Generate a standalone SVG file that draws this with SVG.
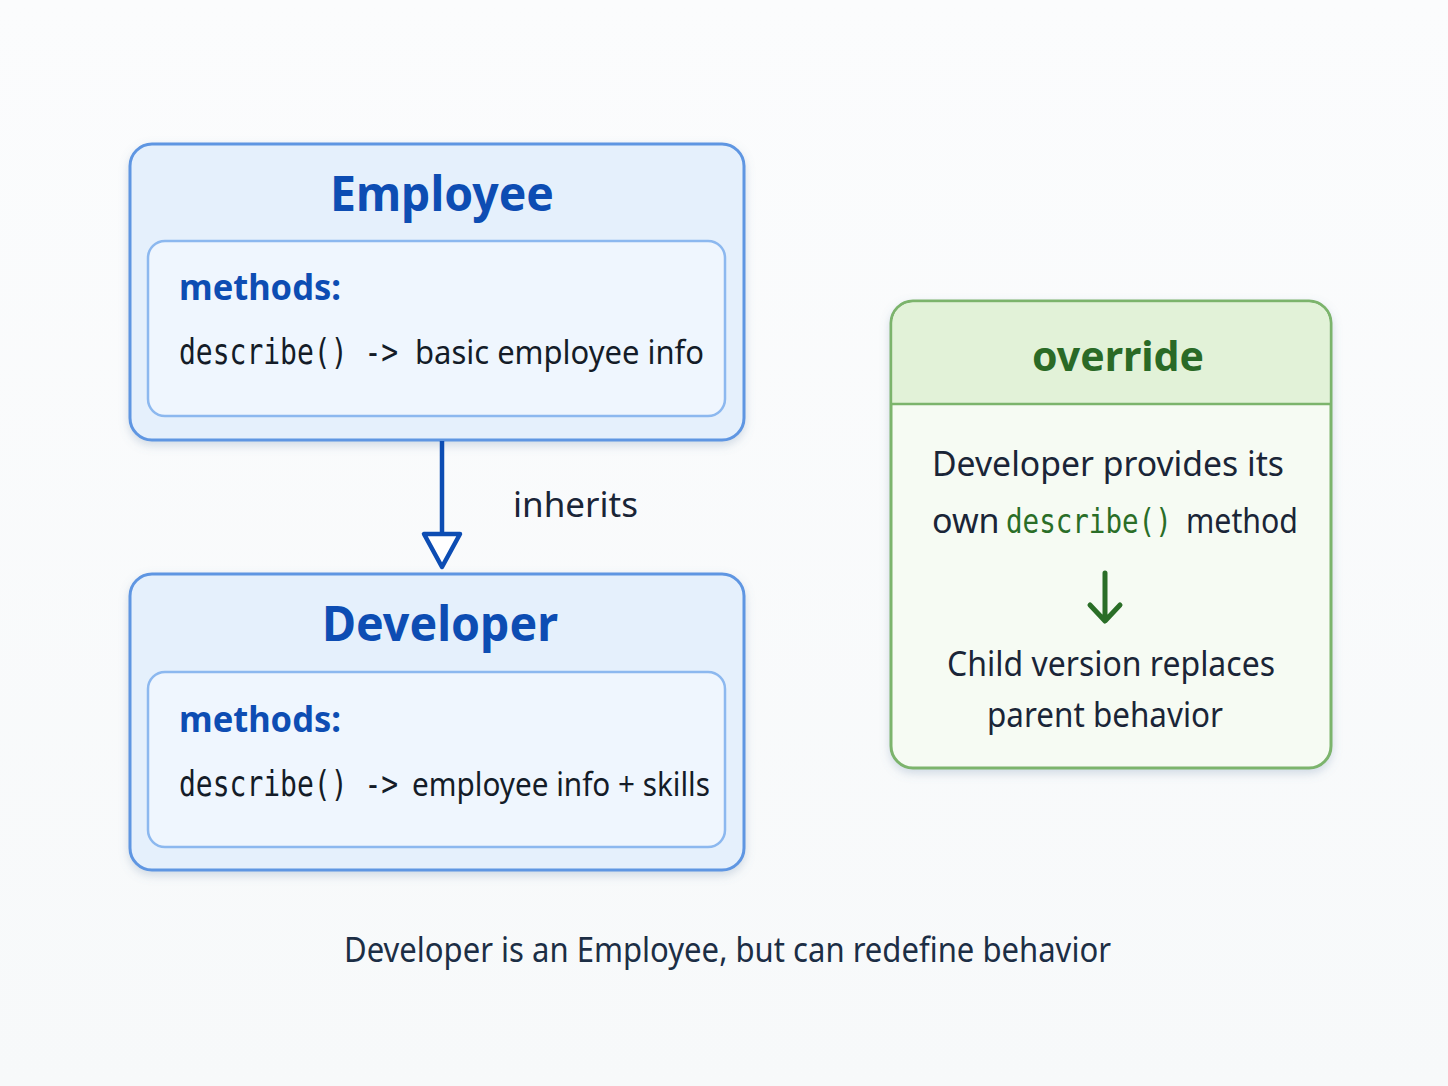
<svg xmlns="http://www.w3.org/2000/svg" width="1448" height="1086" viewBox="0 0 1448 1086">
<defs>
<filter id="sh" x="-10%" y="-10%" width="120%" height="125%">
<feDropShadow dx="0" dy="4" stdDeviation="5" flood-color="#6b86a8" flood-opacity="0.28"/>
</filter>
<linearGradient id="bg" x1="0" y1="0" x2="0" y2="1">
<stop offset="0" stop-color="#fbfcfd"/><stop offset="1" stop-color="#f7f9fa"/>
</linearGradient>
</defs>
<style>
.outer{fill:#e5f0fc;stroke:#5e96e2;stroke-width:3}
.inner{fill:#eff6fe;stroke:#8cb8ef;stroke-width:2.5}
.title{font-family:"Noto Sans","Open Sans",sans-serif;font-weight:bold;font-size:48px;fill:#0d4db3;text-anchor:middle}
.meth{font-family:"Noto Sans","Open Sans",sans-serif;font-weight:bold;font-size:36px;fill:#0d4db3}
.code{font-family:"DejaVu Sans Mono",monospace;font-size:35px;fill:#141c28}
.body{font-family:"Noto Sans","Open Sans",sans-serif;font-size:34px;fill:#1a2537}
.green{fill:#2a6e27}
</style>
<rect width="1448" height="1086" fill="url(#bg)"/>

<g id="employee">
<rect class="outer" x="130" y="144" width="614" height="296" rx="22" filter="url(#sh)"/>
<rect class="inner" x="148" y="241" width="577" height="175" rx="17"/>
<text class="title" x="442" y="211" textLength="224" lengthAdjust="spacingAndGlyphs">Employee</text>
<text class="meth" x="179" y="300" textLength="162" lengthAdjust="spacingAndGlyphs">methods:</text>
<text class="code" transform="translate(179,364) scale(0.8,1)" x="0" y="0">describe() -&gt;</text>
<text class="body" x="415" y="364" style="font-size:32px;fill:#141c28" textLength="289" lengthAdjust="spacingAndGlyphs">basic employee info</text>
</g>

<g id="developer">
<rect class="outer" x="130" y="574" width="614" height="296" rx="22" filter="url(#sh)"/>
<rect class="inner" x="148" y="672" width="577" height="175" rx="17"/>
<text class="title" x="440" y="641" textLength="236" lengthAdjust="spacingAndGlyphs">Developer</text>
<text class="meth" x="179" y="732" textLength="162" lengthAdjust="spacingAndGlyphs">methods:</text>
<text class="code" transform="translate(179,796) scale(0.8,1)" x="0" y="0">describe() -&gt;</text>
<text class="body" x="412" y="796" style="font-size:32px;fill:#141c28" textLength="298" lengthAdjust="spacingAndGlyphs">employee info + skills</text>
</g>

<g id="override">
<rect x="891" y="301" width="440" height="467" rx="22" fill="#f6fbf3" stroke="#7cb46c" stroke-width="3" filter="url(#sh)"/>
<path d="M892.5 404 V323 a20.5 20.5 0 0 1 20.5 -20.5 H1309 a20.5 20.5 0 0 1 20.5 20.5 V404 Z" fill="#e2f2d8"/>
<line x1="892" y1="404" x2="1330" y2="404" stroke="#7cb46c" stroke-width="2.5"/>
<text x="1118" y="371" text-anchor="middle" font-family="Noto Sans, Open Sans, sans-serif" font-weight="bold" font-size="42" fill="#2a6a26" textLength="172" lengthAdjust="spacingAndGlyphs">override</text>
<text class="body" x="932" y="476" textLength="352" lengthAdjust="spacingAndGlyphs">Developer provides its</text>
<text class="body" x="932" y="533">own</text>
<text class="code green" style="font-size:34px" transform="translate(1006,533) scale(0.81,1)" x="0" y="0">describe()</text>
<text class="body" x="1186" y="533" textLength="112" lengthAdjust="spacingAndGlyphs">method</text>
<path d="M1105 573 V620 M1090 605 L1105 621 L1120 605" fill="none" stroke="#2a6e27" stroke-width="5" stroke-linecap="round" stroke-linejoin="round"/>
<text class="body" x="1111" y="676" text-anchor="middle" textLength="328" lengthAdjust="spacingAndGlyphs">Child version replaces</text>
<text class="body" x="1105" y="727" text-anchor="middle" textLength="236" lengthAdjust="spacingAndGlyphs">parent behavior</text>
</g>

<g id="connectors">
<line x1="442" y1="441" x2="442" y2="534" stroke="#0d4db3" stroke-width="4.5"/>
<polygon points="424,534 460,534 442,567" fill="#ffffff" stroke="#0d4db3" stroke-width="4.5" stroke-linejoin="round"/>
<text class="body" x="513" y="517" textLength="125" lengthAdjust="spacingAndGlyphs">inherits</text>
</g>

<text class="body" x="344" y="962" style="fill:#1c2e45" textLength="767" lengthAdjust="spacingAndGlyphs">Developer is an Employee, but can redefine behavior</text>
</svg>
